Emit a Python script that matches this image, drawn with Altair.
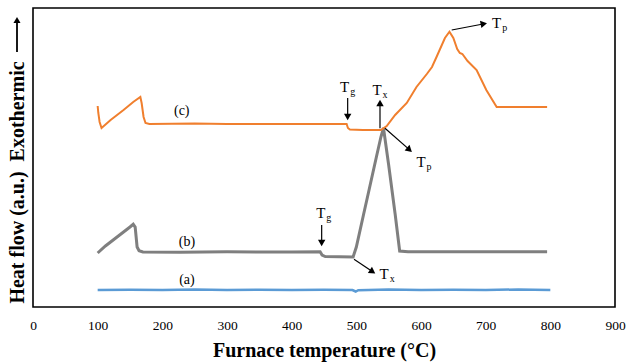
import math
import altair as alt
import pandas as pd

# ---------------- data (temperature in °C, heat flow in a.u.) ----------------
temp_a = [100, 150, 200, 250, 300, 350, 400, 450, 494, 499, 503, 550, 600, 650, 700, 750, 800]
flow_a = [17, 17.3, 17, 17.4, 17, 17.3, 17, 17.2, 17, 15.5, 16.8, 17.4, 17, 17.3, 17, 17.5, 17]

temp_b = [100, 112, 124, 140, 150, 155, 158, 161, 164, 170, 227, 300, 400, 444, 447, 452,
          495, 500, 511, 520, 531, 538, 542, 550, 560, 567, 580, 795]
flow_b = [54, 61, 67, 75, 80, 82.7, 80, 60, 56.3, 55, 54.7, 55.2, 55, 55.3, 52, 50.5,
          50, 60, 92, 118, 150, 170, 179, 142, 93, 56, 55.3, 55.3]

temp_c = [100, 101, 103, 106, 120, 140, 155, 166, 168, 171, 174, 180, 250, 300, 400, 485,
          487, 490, 510, 538, 547, 560, 578, 593, 609, 617, 624, 637, 644, 650, 656, 660,
          664, 672, 686, 701, 717, 795]
flow_c = [201, 194, 185, 179, 187, 197, 205, 210, 204, 190, 184, 183, 183.5, 183, 183, 183,
          179, 177.5, 177, 177, 181, 192, 204, 220, 233, 240, 250, 269, 275.3, 269, 258, 254,
          253, 246, 237, 217, 200, 200]

curve_names = ["(a)", "(b)", "(c)"]
curve_label_x = [238, 238, 230]
curve_label_y = [27, 65, 196]

# annotations: main letter + subscript
ann_main = ["T", "T", "T", "T", "T", "T"]
ann_sub = ["g", "x", "p", "g", "x", "p"]
ann_x = [482, 532, 600, 445, 543, 717]
ann_y = [220, 217, 145, 94, 33, 284]

# arrows (start -> tip)
arr_x = [486.6, 536.6, 544.3, 446.4, 496.4, 647.5]
arr_y = [209, 178.7, 178.7, 82, 47.7, 277]
arr_x2 = [486.6, 536.6, 585.6, 446.4, 528.9, 701.6]
arr_y2 = [187, 207, 155.3, 61, 33.7, 283.7]

x_ticks = [0, 100, 200, 300, 400, 500, 600, 700, 800, 900]

# ---------------- chart ----------------
W, H = 582, 299
XMAX, YMAX = 900, 299
sx = W / XMAX
sy = H / YMAX

df_a = pd.DataFrame({"T": temp_a, "Q": flow_a})
df_b = pd.DataFrame({"T": temp_b, "Q": flow_b})
df_c = pd.DataFrame({"T": temp_c, "Q": flow_c})

xs = alt.Scale(domain=[0, XMAX], nice=False, zero=False)
ys = alt.Scale(domain=[0, YMAX], nice=False, zero=False)

SERIF = "Liberation Serif"
NB = "\u00a0"

x_enc = alt.X("T:Q", scale=xs, axis=alt.Axis(
    values=x_ticks, title="Furnace temperature (°C)", grid=False, ticks=False, domain=False,
    labelFont=SERIF, labelFontSize=13.5, labelColor="black", labelPadding=11,
    titleFont=SERIF, titleFontSize=20, titleFontWeight="bold", titleColor="black",
    titlePadding=9, labelFlush=False))
y_enc = alt.Y("Q:Q", scale=ys, axis=alt.Axis(
    title="Heat flow (a.u.)" + NB * 2 + "Exothermic", grid=False, ticks=False, domain=False,
    labels=False,
    titleFont=SERIF, titleFontSize=20, titleFontWeight="bold", titleColor="black",
    titleAngle=270, titleBaseline="middle", titleAlign="center", titleX=-16, titleY=174))

line_a = alt.Chart(df_a).mark_line(color="#5B9BD5", strokeWidth=2.5).encode(x=x_enc, y=y_enc)
line_b = alt.Chart(df_b).mark_line(color="#7F7F7F", strokeWidth=3).encode(x="T:Q", y="Q:Q")
line_c = alt.Chart(df_c).mark_line(color="#F07F2E", strokeWidth=2).encode(x="T:Q", y="Q:Q")

lab_df = pd.DataFrame({"T": curve_label_x, "Q": curve_label_y, "txt": curve_names})
labels = alt.Chart(lab_df).mark_text(font=SERIF, fontSize=14, color="black").encode(
    x="T:Q", y="Q:Q", text="txt:N")

ann_df = pd.DataFrame({"T": ann_x, "Q": ann_y, "m": ann_main, "s": ann_sub})
ann_main_l = alt.Chart(ann_df).mark_text(font=SERIF, fontSize=15, color="black").encode(
    x="T:Q", y="Q:Q", text="m:N")
ann_sub_l = alt.Chart(ann_df).mark_text(font=SERIF, fontSize=10, color="black", dx=8, dy=5).encode(
    x="T:Q", y="Q:Q", text="s:N")

# arrow geometry
rows = []
for x0, y0, x1, y1 in zip(arr_x, arr_y, arr_x2, arr_y2):
    dxp = (x1 - x0) * sx
    dyp = -(y1 - y0) * sy  # screen coords (down positive)
    L = math.hypot(dxp, dyp)
    ux, uy = dxp / L, dyp / L
    ang = math.degrees(math.atan2(ux, -uy)) % 360
    back = 4.0
    cx = x1 - ux * back / sx
    cy = y1 + uy * back / sy
    rx2 = x1 - ux * 5 / sx
    ry2 = y1 + uy * 5 / sy
    rows.append({"T": x0, "Q": y0, "T2": rx2, "Q2": ry2, "hx": cx, "hy": cy, "ang": ang})
arr_df = pd.DataFrame(rows)

arrow_lines = alt.Chart(arr_df).mark_rule(color="black", strokeWidth=1.2).encode(
    x="T:Q", y="Q:Q", x2="T2:Q", y2="Q2:Q")
arrow_heads = alt.Chart(arr_df).mark_point(shape="triangle", filled=True, color="black",
                                           size=55, opacity=1).encode(
    x="hx:Q", y="hy:Q", angle=alt.Angle("ang:Q", scale=None))

# the "Exothermic" arrow of the y-axis title (decoration placed beside the title)
title_arrow = alt.Chart(pd.DataFrame({"k": [0]})).mark_rule(color="black", strokeWidth=1.8).encode(
    x=alt.value(-16), y=alt.value(14), y2=alt.value(44))
title_arrow_head = alt.Chart(pd.DataFrame({"k": [0]})).mark_point(
    shape="triangle", filled=True, color="black", size=50, opacity=1).encode(
    x=alt.value(-16), y=alt.value(13))

chart = alt.layer(line_a, line_b, line_c, labels, ann_main_l, ann_sub_l, arrow_lines, arrow_heads,
                  title_arrow, title_arrow_head).properties(
    width=W, height=H,
    padding={"left": 33, "top": 8, "right": 16, "bottom": 57},
    autosize=alt.AutoSizeParams(type="none"),
).configure(background="white", font=SERIF).configure_view(stroke="black", strokeWidth=1.6)

chart.save("out.html", embed_options={"renderer": "svg", "actions": False})
